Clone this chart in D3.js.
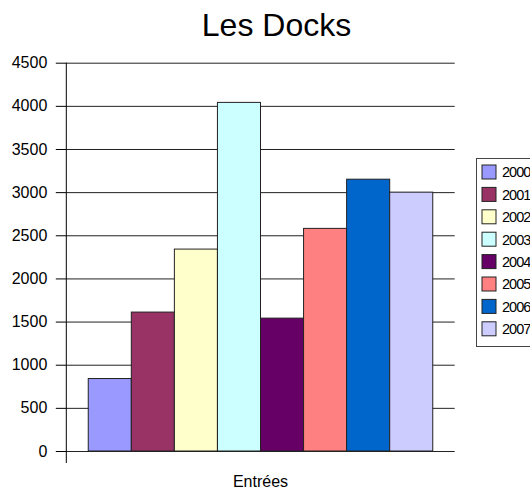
<!DOCTYPE html>
<html>
<head>
<meta charset="utf-8">
<script src="https://cdn.jsdelivr.net/npm/d3@7"></script>
<style>
  html, body { margin: 0; padding: 0; background: #fff; }
  svg { display: block; font-family: "Liberation Sans", Arial, sans-serif; }
</style>
</head>
<body>
<svg id="chart" width="530" height="488"></svg>
<script>
const title = "Les Docks";
const categories = ["Entrées"];
const years = ["2000", "2001", "2002", "2003", "2004", "2005", "2006", "2007"];
const values = [840, 1610, 2340, 4040, 1540, 2580, 3150, 3000];
const colors = ["#9999FF", "#993366", "#FFFFCC", "#CCFFFF", "#660066", "#FF8080", "#0066CC", "#CCCCFF"];
const yTicks = [0, 500, 1000, 1500, 2000, 2500, 3000, 3500, 4000, 4500];

const svg = d3.select("#chart");
const plot = { left: 66.3, right: 454.7, top: 62.7, bottom: 451 };

const y = d3.scaleLinear().domain([0, 4500]).range([plot.bottom, plot.top]);
const x0 = d3.scaleBand().domain(categories).range([plot.left, plot.right]).paddingInner(0).paddingOuter(0.0637);
const x1 = d3.scaleBand().domain(years).range([0, x0.bandwidth()]).padding(0);

// title
svg.append("text").attr("x", 276.5).attr("y", 36.3).attr("text-anchor", "middle")
  .attr("font-size", 32).attr("fill", "#000").text(title);

// y axis ticks + labels
const yAxis = d3.axisLeft(y).tickValues(yTicks).tickSize(10.5).tickPadding(8.5).tickFormat(d3.format("d"));
const gy = svg.append("g").attr("transform", `translate(${plot.left},0)`).call(yAxis);
gy.select(".domain").remove();
gy.selectAll(".tick line").attr("stroke", "#000");
gy.selectAll(".tick text").attr("font-size", 16).attr("fill", "#000").attr("font-family", "Liberation Sans, Arial, sans-serif");

// gridlines
const grid = d3.axisLeft(y).tickValues(yTicks).tickSize(-(plot.right - plot.left)).tickFormat("");
const gg = svg.append("g").attr("transform", `translate(${plot.left},0)`).call(grid);
gg.select(".domain").remove();
gg.selectAll(".tick line").attr("stroke", "#222").attr("stroke-width", 1);

// bars
const gb = svg.append("g").attr("transform", `translate(${x0("Entrées")},0)`);
gb.selectAll("rect").data(years).join("rect")
  .attr("x", d => x1(d))
  .attr("y", (d, i) => y(values[i]))
  .attr("width", x1.bandwidth())
  .attr("height", (d, i) => y(0) - y(values[i]))
  .attr("fill", (d, i) => colors[i])
  .attr("stroke", "#222").attr("stroke-width", 1);

// y axis line
svg.append("line").attr("x1", plot.left).attr("x2", plot.left)
  .attr("y1", plot.top).attr("y2", plot.bottom + 12).attr("stroke", "#000");

// x axis label
svg.append("text").attr("x", x0("Entrées") + x0.bandwidth() / 2).attr("y", 486.5)
  .attr("text-anchor", "middle").attr("font-size", 16).attr("fill", "#000").text(categories[0]);

// legend
const lg = svg.append("g");
lg.append("rect").attr("x", 476.5).attr("y", 158.5).attr("width", 80).attr("height", 188)
  .attr("fill", "#fff").attr("stroke", "#444");
const items = lg.selectAll("g.item").data(years).join("g").attr("class", "item")
  .attr("transform", (d, i) => `translate(482, ${165 + i * 22.4})`);
items.append("rect").attr("width", 14).attr("height", 14)
  .attr("fill", (d, i) => colors[i]).attr("stroke", "#222");
items.append("text").attr("x", 20).attr("y", 12.3).attr("font-size", 14.5)
  .attr("letter-spacing", -1).attr("fill", "#000").text(d => d);
</script>
</body>
</html>
